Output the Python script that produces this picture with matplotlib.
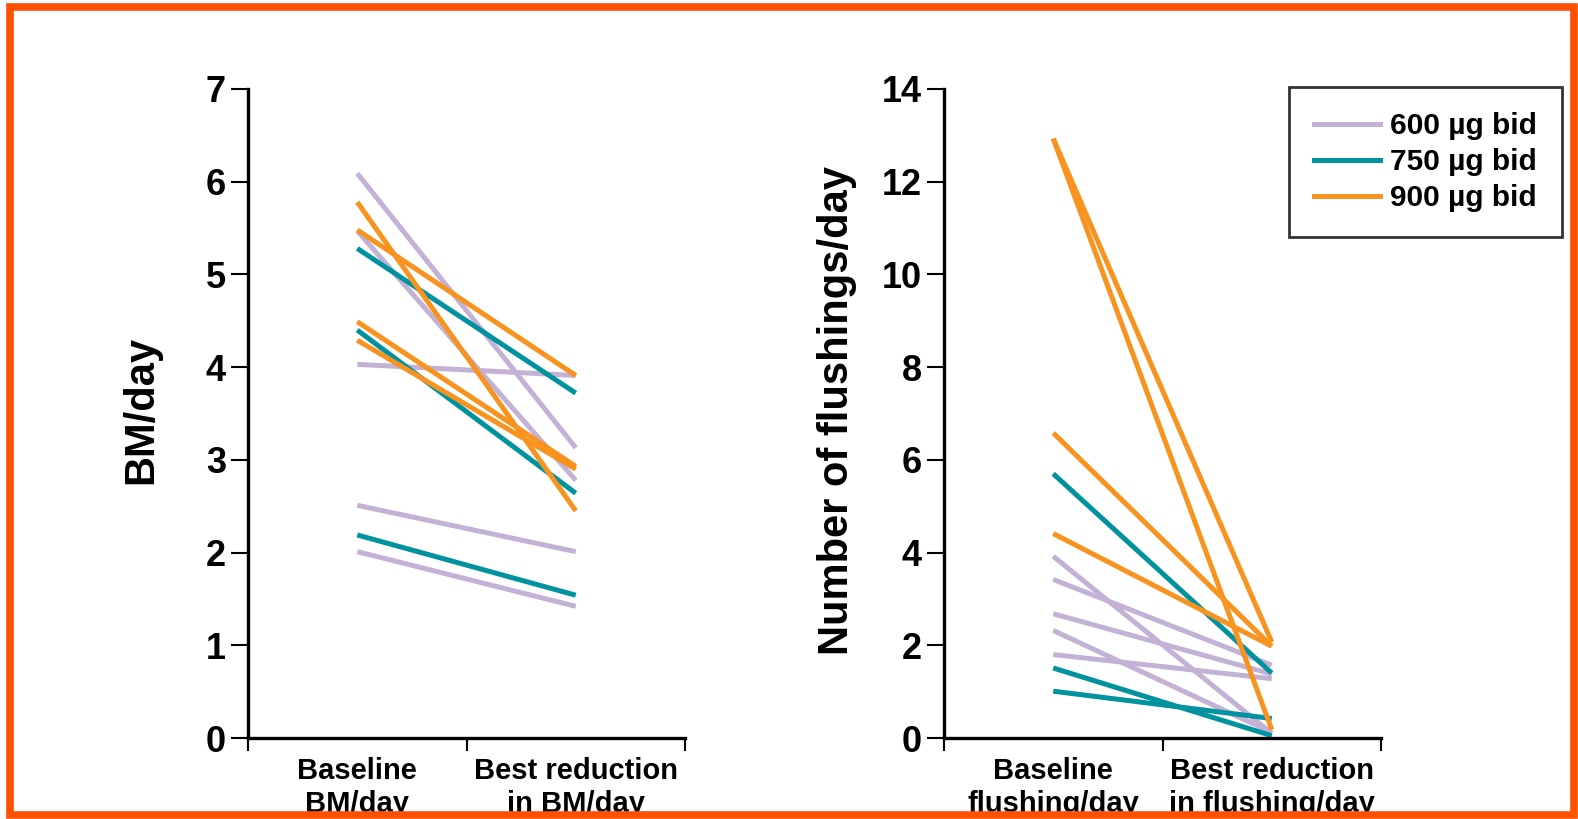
import matplotlib
matplotlib.use('Agg')
from matplotlib import pyplot as plt
from matplotlib.patches import Rectangle

plt.rcParams['font.family'] = ['Liberation Sans', 'DejaVu Sans']
plt.rcParams['font.weight'] = 'bold'
plt.rcParams['axes.labelweight'] = 'bold'

# Groups
labels = ['600 µg bid', '750 µg bid', '900 µg bid']
colors = ['#C4B2D6', '#00929F', '#F7931E']

# Left panel: BM/day (baseline, best reduction) per patient
bm_600_base = [6.09, 5.47, 4.03, 2.51, 2.01]
bm_600_best = [3.13, 2.78, 3.91, 2.01, 1.42]
bm_750_base = [5.28, 4.40, 2.19]
bm_750_best = [3.72, 2.64, 1.54]
bm_900_base = [5.78, 5.48, 4.49, 4.29]
bm_900_best = [2.45, 3.91, 2.93, 2.90]

# Right panel: flushings/day
fl_600_base = [3.92, 3.42, 2.68, 2.32, 1.80]
fl_600_best = [0.10, 1.57, 1.38, 0.12, 1.28]
fl_750_base = [5.70, 1.51, 1.01]
fl_750_best = [1.40, 0.05, 0.42]
fl_900_base = [12.93, 12.93, 6.58, 4.41]
fl_900_best = [2.07, 0.18, 1.98, 1.98]

bm_xlabels = ['Baseline\nBM/day', 'Best reduction\nin BM/day']
fl_xlabels = ['Baseline\nflushing/day', 'Best reduction\nin flushing/day']

W, H = 1578, 819
fig = plt.figure(figsize=(W / 100, H / 100), dpi=100)
fig.patch.set_facecolor('white')

ax1 = fig.add_axes([248 / W, 1 - 738 / H, 437 / W, 649 / H])
ax2 = fig.add_axes([944 / W, 1 - 738 / H, 437 / W, 649 / H])


def draw_panel(ax, groups, ymax, ystep, xlabels, ylabel):
    for (base, best), c in zip(groups, colors):
        for b, r in zip(base, best):
            ax.plot([0.5, 1.5], [b, r], color=c, lw=3.6, solid_capstyle='butt')
    ax.set_xlim(0, 2)
    ax.set_ylim(0, ymax)
    ax.set_yticks(range(0, ymax + 1, ystep))
    ax.set_xticks([0, 1, 2])
    ax.set_xticklabels([])
    ax.set_xticks([0.5, 1.5], minor=True)
    ax.set_xticklabels(xlabels, minor=True, fontsize=21, linespacing=1.2)
    ax.tick_params(axis='x', which='minor', length=0, pad=14)
    ax.tick_params(axis='x', which='major', length=9, width=1.5, direction='out')
    ax.tick_params(axis='y', length=12, width=1.5, labelsize=26, pad=4)
    for s in ['top', 'right']:
        ax.spines[s].set_visible(False)
    for s in ['left', 'bottom']:
        ax.spines[s].set_linewidth(2.4)
    ax.set_ylabel(ylabel, fontsize=30)
    ax.yaxis.set_label_coords(-0.199, 0.505)


draw_panel(ax1, [(bm_600_base, bm_600_best), (bm_750_base, bm_750_best),
                 (bm_900_base, bm_900_best)], 7, 1, bm_xlabels, 'BM/day')
draw_panel(ax2, [(fl_600_base, fl_600_best), (fl_750_base, fl_750_best),
                 (fl_900_base, fl_900_best)], 14, 2, fl_xlabels,
           'Number of flushings/day')

handles = [plt.Line2D([], [], color=c, lw=3.6) for c in colors]
leg = fig.legend(handles, labels, loc='upper right',
                 bbox_to_anchor=(1562 / W, 1 - 87 / H), borderaxespad=0,
                 fontsize=21.5, frameon=True, fancybox=False, edgecolor='black',
                 handlelength=2.2, handletextpad=0.33, borderpad=0.84,
                 labelspacing=0.27)
leg.get_frame().set_linewidth(2)

# orange frame round the figure
fig.patches.append(Rectangle((10 / W, 4 / H), 1564 / W, 808 / H,
                             transform=fig.transFigure, fill=False,
                             edgecolor='#FF5000', lw=5.5, zorder=10))

fig.savefig('out.png', dpi=100)
